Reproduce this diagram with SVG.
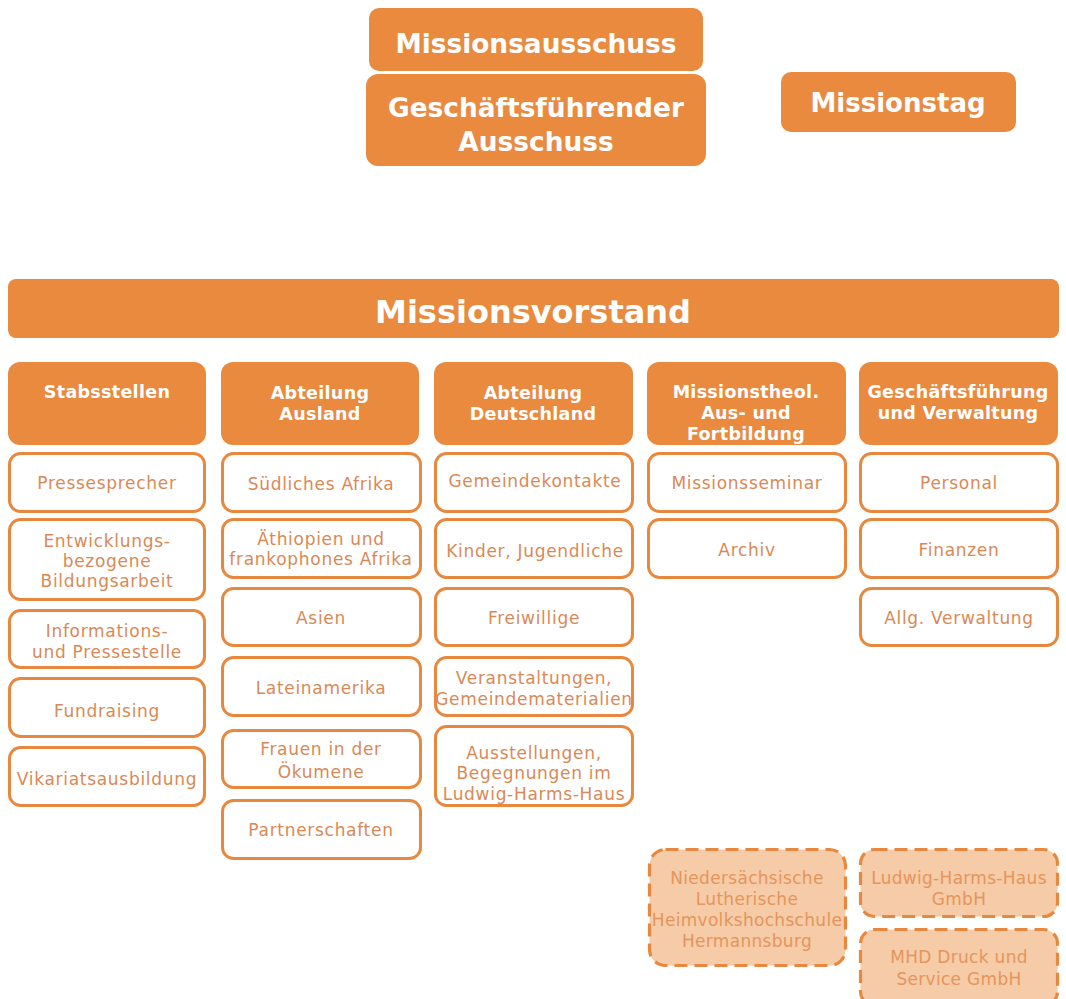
<svg xmlns="http://www.w3.org/2000/svg" width="1066" height="999" viewBox="0 0 1066 999">
<style>
.solid{fill:#E98A3F;}
.sub{fill:#FFFFFF;stroke:#E8883E;stroke-width:3;}
.dash{fill:#F6CBA7;stroke:#E8883E;stroke-width:3.2;stroke-dasharray:13 7;}
.tb{font-family:"DejaVu Sans","Liberation Sans",sans-serif;font-weight:bold;fill:#FFFFFF;text-anchor:middle;}
.th{font-size:17.5px;letter-spacing:0.3px;}
.ts{font-family:"DejaVu Sans","Liberation Sans",sans-serif;fill:#D98956;text-anchor:middle;font-size:17px;letter-spacing:0.7px;}
.td{font-family:"DejaVu Sans","Liberation Sans",sans-serif;fill:#E5955C;text-anchor:middle;font-size:17px;letter-spacing:0.3px;}
</style>
<rect width="1066" height="999" fill="#FFFFFF"/>
<g id="connectors"/>

<g id="missionsausschuss">
<rect class="solid" x="369" y="8" width="334" height="63" rx="10"/>
<text class="tb" x="536" y="53" font-size="26.4">Missionsausschuss</text>
</g>
<g id="geschaeftsfuehrender-ausschuss">
<rect class="solid" x="366" y="74" width="340" height="92" rx="12"/>
<text class="tb" x="536" y="117" font-size="26.4">Geschäftsführender</text>
<text class="tb" x="536" y="151" font-size="26.4">Ausschuss</text>
</g>
<g id="missionstag">
<rect class="solid" x="781" y="72" width="235" height="60" rx="10"/>
<text class="tb" x="898" y="112" font-size="26">Missionstag</text>
</g>

<g id="missionsvorstand">
<rect class="solid" x="8" y="279" width="1051" height="59" rx="8"/>
<text class="tb" x="533" y="323" font-size="32">Missionsvorstand</text>
</g>

<g id="stabsstellen">
<rect class="solid" x="8" y="362" width="198" height="83" rx="12"/>
<text class="tb th" x="107" y="398">Stabsstellen</text>
</g>
<g id="abteilung-ausland">
<rect class="solid" x="221" y="362" width="198" height="83" rx="12"/>
<text class="tb th" x="320" y="399">Abteilung</text>
<text class="tb th" x="320" y="420">Ausland</text>
</g>
<g id="abteilung-deutschland">
<rect class="solid" x="434" y="362" width="199" height="83" rx="12"/>
<text class="tb th" x="533" y="399">Abteilung</text>
<text class="tb th" x="533" y="420">Deutschland</text>
</g>
<g id="missionstheol">
<rect class="solid" x="647" y="362" width="199" height="83" rx="12"/>
<text class="tb th" x="746" y="398">Missionstheol.</text>
<text class="tb th" x="746" y="419">Aus- und</text>
<text class="tb th" x="746" y="440">Fortbildung</text>
</g>
<g id="geschaeftsfuehrung">
<rect class="solid" x="859" y="362" width="199" height="83" rx="12"/>
<text class="tb th" x="958" y="398">Geschäftsführung</text>
<text class="tb th" x="958" y="419">und Verwaltung</text>
</g>

<!-- column 1 -->
<g id="pressesprecher">
<rect class="sub" x="9.5" y="453.5" width="195" height="58" rx="11"/>
<text class="ts" x="107" y="489">Pressesprecher</text>
</g>
<g id="entwicklungsbezogene-bildungsarbeit">
<rect class="sub" x="9.5" y="519.5" width="195" height="80" rx="11"/>
<text class="ts" x="107" y="547">Entwicklungs-</text>
<text class="ts" x="107" y="567">bezogene</text>
<text class="ts" x="107" y="587">Bildungsarbeit</text>
</g>
<g id="informations-pressestelle">
<rect class="sub" x="9.5" y="610.5" width="195" height="57" rx="11"/>
<text class="ts" x="107" y="637">Informations-</text>
<text class="ts" x="107" y="658">und Pressestelle</text>
</g>
<g id="fundraising">
<rect class="sub" x="9.5" y="678.5" width="195" height="58" rx="11"/>
<text class="ts" x="107" y="717">Fundraising</text>
</g>
<g id="vikariatsausbildung">
<rect class="sub" x="9.5" y="747.5" width="195" height="58" rx="11"/>
<text class="ts" x="107" y="785">Vikariatsausbildung</text>
</g>

<!-- column 2 -->
<g id="suedliches-afrika">
<rect class="sub" x="222.5" y="453.5" width="198" height="58" rx="11"/>
<text class="ts" x="321" y="490">Südliches Afrika</text>
</g>
<g id="aethiopien">
<rect class="sub" x="222.5" y="519.5" width="198" height="58" rx="11"/>
<text class="ts" x="321" y="545">Äthiopien und</text>
<text class="ts" x="321" y="565" letter-spacing="0.3">frankophones Afrika</text>
</g>
<g id="asien">
<rect class="sub" x="222.5" y="588.5" width="198" height="57" rx="11"/>
<text class="ts" x="321" y="624">Asien</text>
</g>
<g id="lateinamerika">
<rect class="sub" x="222.5" y="657.5" width="198" height="58" rx="11"/>
<text class="ts" x="321" y="694">Lateinamerika</text>
</g>
<g id="frauen-oekumene">
<rect class="sub" x="222.5" y="730.5" width="198" height="57" rx="11"/>
<text class="ts" x="321" y="755">Frauen in der</text>
<text class="ts" x="321" y="778">Ökumene</text>
</g>
<g id="partnerschaften">
<rect class="sub" x="222.5" y="800.5" width="198" height="58" rx="11"/>
<text class="ts" x="321" y="836">Partnerschaften</text>
</g>

<!-- column 3 -->
<g id="gemeindekontakte">
<rect class="sub" x="435.5" y="453.5" width="197" height="58" rx="11"/>
<text class="ts" x="535" y="487">Gemeindekontakte</text>
</g>
<g id="kinder-jugendliche">
<rect class="sub" x="435.5" y="519.5" width="197" height="58" rx="11"/>
<text class="ts" x="535" y="557" font-size="19" letter-spacing="0.5">Kinder, Jugendliche</text>
</g>
<g id="freiwillige">
<rect class="sub" x="435.5" y="588.5" width="197" height="57" rx="11"/>
<text class="ts" x="534" y="624">Freiwillige</text>
</g>
<g id="veranstaltungen">
<rect class="sub" x="435.5" y="657.5" width="197" height="58" rx="11"/>
<text class="ts" x="534" y="684">Veranstaltungen,</text>
<text class="ts" x="534" y="705" letter-spacing="0">Gemeindematerialien</text>
</g>
<g id="ausstellungen">
<rect class="sub" x="435.5" y="726.5" width="197" height="79" rx="11"/>
<text class="ts" x="534" y="759">Ausstellungen,</text>
<text class="ts" x="534" y="779">Begegnungen im</text>
<text class="ts" x="534" y="800" letter-spacing="0.5">Ludwig-Harms-Haus</text>
</g>

<!-- column 4 -->
<g id="missionsseminar">
<rect class="sub" x="648.5" y="453.5" width="197" height="58" rx="11"/>
<text class="ts" x="747" y="489">Missionsseminar</text>
</g>
<g id="archiv">
<rect class="sub" x="648.5" y="519.5" width="197" height="58" rx="11"/>
<text class="ts" x="747" y="556" font-size="23" letter-spacing="0">Archiv</text>
</g>

<!-- column 5 -->
<g id="personal">
<rect class="sub" x="860.5" y="453.5" width="197" height="58" rx="11"/>
<text class="ts" x="959" y="489">Personal</text>
</g>
<g id="finanzen">
<rect class="sub" x="860.5" y="519.5" width="197" height="58" rx="11"/>
<text class="ts" x="959" y="556">Finanzen</text>
</g>
<g id="allg-verwaltung">
<rect class="sub" x="860.5" y="588.5" width="197" height="57" rx="11"/>
<text class="ts" x="959" y="624">Allg. Verwaltung</text>
</g>

<!-- dashed -->
<g id="heimvolkshochschule">
<rect class="dash" x="649.5" y="849.5" width="196" height="116" rx="16"/>
<text class="td" x="747" y="884">Niedersächsische</text>
<text class="td" x="747" y="905">Lutherische</text>
<text class="td" x="747" y="926" letter-spacing="0">Heimvolkshochschule</text>
<text class="td" x="747" y="947">Hermannsburg</text>
</g>
<g id="lhh-gmbh">
<rect class="dash" x="860.5" y="849.5" width="197" height="67" rx="14"/>
<text class="td" x="959" y="884" letter-spacing="0.7">Ludwig-Harms-Haus</text>
<text class="td" x="959" y="905">GmbH</text>
</g>
<g id="mhd-druck">
<rect class="dash" x="860.5" y="929.5" width="197" height="76" rx="14"/>
<text class="td" x="959" y="963">MHD Druck und</text>
<text class="td" x="959" y="985">Service GmbH</text>
</g>
</svg>
